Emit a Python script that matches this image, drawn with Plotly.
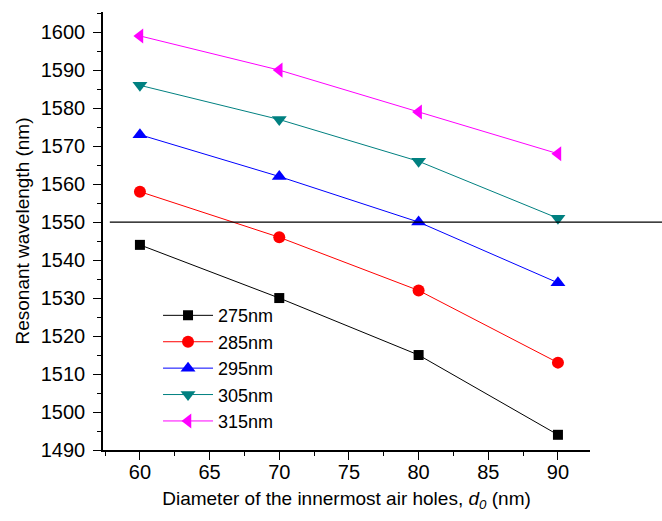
import plotly.graph_objects as go

diameters = [60, 70, 80, 90]
series_names = ["275nm", "285nm", "295nm", "305nm", "315nm"]
s275 = [1544, 1530, 1515, 1494]
s285 = [1558, 1546, 1532, 1513]
s295 = [1573, 1562, 1550, 1534]
s305 = [1586, 1577, 1566, 1551]
s315 = [1599, 1590, 1579, 1568]
ref_wavelength = 1550
x_ticks = [60, 65, 70, 75, 80, 85, 90]
y_ticks = [1490, 1500, 1510, 1520, 1530, 1540, 1550, 1560, 1570, 1580, 1590, 1600]

series_values = [s275, s285, s295, s305, s315]
colors = ["#000000", "#FF0000", "#0000FF", "#008080", "#FF00FF"]
symbols = ["square", "circle", "triangle-up", "triangle-down", "triangle-left"]
sizes = [10, 12, 13, 13, 13]

fig = go.Figure()
for name, vals, c, s, sz in zip(series_names, series_values, colors, symbols, sizes):
    fig.add_trace(go.Scatter(
        x=diameters, y=vals, name=name, mode="lines+markers",
        line=dict(color=c, width=1),
        marker=dict(symbol=s, size=sz, color=c),
    ))

fig.add_shape(type="line", xref="paper", yref="y",
              x0=0.014, x1=1.2, y0=ref_wavelength, y1=ref_wavelength,
              line=dict(color="black", width=1.2))

font_family = "Liberation Sans, Arial, sans-serif"
fig.update_layout(
    width=662, height=521,
    margin=dict(l=103, r=72, t=12, b=71),
    plot_bgcolor="white", paper_bgcolor="white",
    font=dict(family=font_family, size=20, color="black"),
    showlegend=True,
    legend=dict(x=0.113, y=0.349, xanchor="left", yanchor="top",
                bgcolor="rgba(0,0,0,0)", font=dict(size=18),
                traceorder="normal", itemwidth=50),
    xaxis=dict(range=[57.35, 92.3], tickmode="array", tickvals=x_ticks,
               ticks="outside", ticklen=8, tickwidth=1, tickcolor="black",
               showline=True, linecolor="black", linewidth=1.5,
               showgrid=False, zeroline=False, tickfont=dict(size=20),
               ticklabelstandoff=-5,
               minor=dict(dtick=2.5, ticks="outside", ticklen=4, tickcolor="black", showgrid=False),
               title=dict(text="Diameter of the innermost air holes, <i>d<sub>0</sub></i> (nm)",
                          font=dict(size=19), standoff=10)),
    yaxis=dict(range=[1490, 1605.3], tickmode="array", tickvals=y_ticks,
               ticks="outside", ticklen=8, tickwidth=1, tickcolor="black",
               showline=True, linecolor="black", linewidth=1.5,
               showgrid=False, zeroline=False, tickfont=dict(size=20),
               ticklabelstandoff=4,
               minor=dict(dtick=5, ticks="outside", ticklen=4, tickcolor="black", showgrid=False),
               title=dict(text="Resonant wavelength (nm)", font=dict(size=19), standoff=6)),
)

fig.write_html("out.html")
